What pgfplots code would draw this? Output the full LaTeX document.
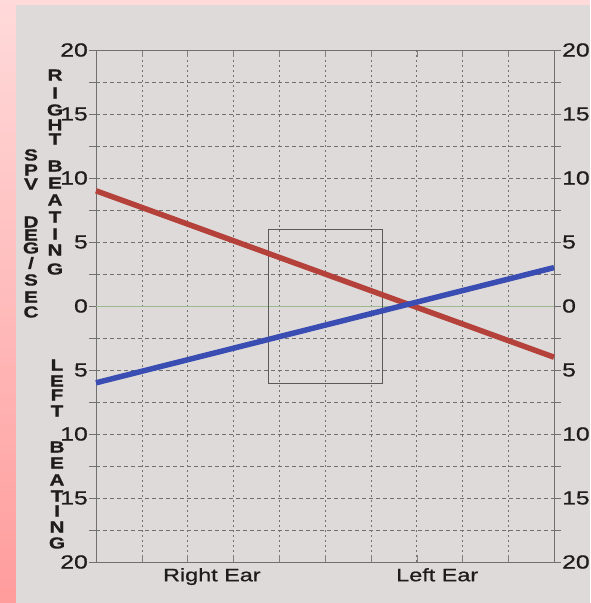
\documentclass[border=0pt]{standalone}
\usepackage{fontspec}
\setmainfont{Liberation Sans}[FakeStretch=1.3, RawFeature={embolden=0.8}]
\usepackage{pgfplots}
\pgfplotsset{compat=1.18}
\definecolor{paper}{HTML}{DEDADA}
\definecolor{pinkA}{HTML}{FFDADA}
\definecolor{pinkB}{HTML}{FF9C9C}
\definecolor{redline}{HTML}{B5413B}
\definecolor{blueline}{HTML}{3A4DB3}
\definecolor{gridc}{HTML}{707070}
\definecolor{zeroc}{HTML}{9CB98C}
\definecolor{inkc}{HTML}{1E1C1C}
\begin{document}
\begin{tikzpicture}[x=1pt,y=1pt]
\useasboundingbox (-96,-41) rectangle (494,562);
\fill[paper] (-96,-41) rectangle (494,562);
\shade[top color=pinkA, bottom color=pinkB] (-96,-41) rectangle (-80,562);
\fill[pinkA] (-96,557) rectangle (494,562);
\begin{axis}[at={(0,0)}, anchor=south west, scale only axis,
  width=458pt, height=512pt,
  xmin=0, xmax=10, ymin=-20, ymax=20,
  axis line style={gridc, thin},
  xtick={2.53,7.45}, xticklabels={Right Ear, Left Ear},
  major x tick style={draw=none},
  minor xtick={1,2,...,9},
  xmajorgrids=false, xminorgrids=true,
  minor x grid style={gridc, thin, dash pattern=on 2pt off 3pt},
  ytick={-20,-15,...,20}, yticklabels={20,15,10,5,0,5,10,15,20},
  minor ytick={-17.5,-12.5,...,17.5},
  ymajorgrids=true, yminorgrids=true,
  major y grid style={gridc, thin, dash pattern=on 4pt off 3pt},
  minor y grid style={gridc, thin, dash pattern=on 4pt off 3pt},
  ytick align=outside, major y tick style={gridc, thin}, minor y tick style={gridc, thin},
  major tick length=7pt, minor tick length=7pt,
  tick label style={font=\fontsize{19}{19}\selectfont, text=inkc},
  y tick label style={inner sep=1pt},
  x tick label style={font=\fontsize{18}{18}\selectfont, inner sep=2pt, yshift=-4pt},
  /pgf/number format/assume math mode=true,
  clip=false,
]
\addplot[zeroc, thin] coordinates {(0,0) (10,0)};
\addplot[gridc!80!black, thin] coordinates {(3.75,6) (6.25,6) (6.25,-6) (3.75,-6) (3.75,6)};
\addplot[redline, line width=5.5pt] coordinates {(0,9) (10,-4)};
\addplot[blueline, line width=5.5pt] coordinates {(0,-6) (10,3)};
\end{axis}
\begin{axis}[at={(0,0)}, anchor=south west, scale only axis,
  width=458pt, height=512pt,
  xmin=0, xmax=10, ymin=-20, ymax=20,
  axis line style={draw=none},
  xtick=\empty,
  ytick={-20,-15,...,20}, yticklabels={20,15,10,5,0,5,10,15,20},
  yticklabel pos=right, major y tick style={draw=none},
  ytick align=outside, major tick length=7pt,
  tick label style={font=\fontsize{19}{19}\selectfont, text=inkc},
  y tick label style={inner sep=1pt},
  /pgf/number format/assume math mode=true,
]
\addplot[draw=none] coordinates {(0,0) (10,0)};
\end{axis}
\begin{scope}[every node/.style={font=\fontsize{16}{16}\selectfont\bfseries, text=inkc, inner sep=0pt, anchor=center}]
\foreach \l/\y in {S/155,P/170,V/184,D/222,E/235,G/248,{/}/263,S/280,E/297,C/312}
  \node at (-65, 562-\y) {\l};
\foreach \l/\y in {R/75,I/93,G/110,H/125,T/139,B/166,E/183,A/200,T/217,I/234,N/250,G/269}
  \node at (-41, 562-\y) {\l};
\foreach \l/\y in {L/365,E/381,F/395,T/411,B/447,E/463,A/480,T/496,I/511,N/527,G/543}
  \node at (-39, 562-\y) {\l};
\end{scope}
\end{tikzpicture}
\end{document}
